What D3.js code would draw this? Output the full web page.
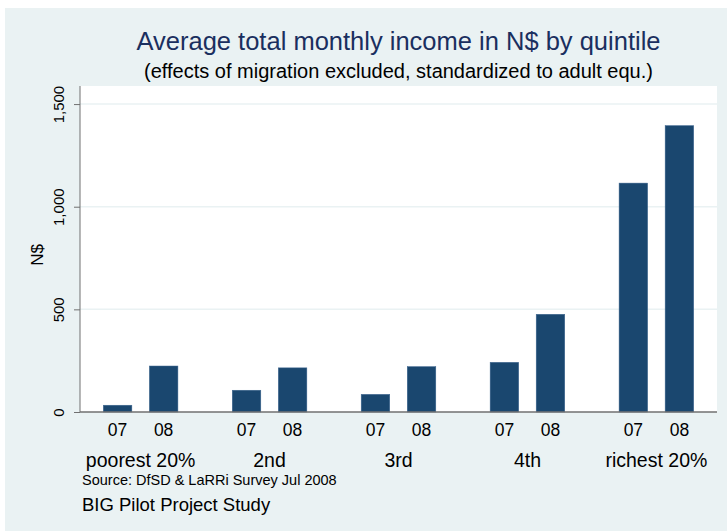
<!DOCTYPE html><meta charset="utf-8">
<html>
<head>
<title>Average total monthly income by quintile</title>
<script src="https://cdn.jsdelivr.net/npm/d3@7/dist/d3.min.js"></script>
<style>
  body { margin: 0; background: #fff; }
  text { font-family: "Liberation Sans", Arial, sans-serif; }
</style>
</head>
<body>
<svg id="viz"></svg>
<script>
// data
var quintiles = ["poorest 20%", "2nd", "3rd", "4th", "richest 20%"];
var years = ["07", "08"];
var income07 = [33, 106, 86, 242, 1115];
var income08 = [224, 215, 221, 476, 1395];
var yTicks = [0, 500, 1000, 1500];

var width = 727, height = 531;
var plot = {left: 80, right: 717, top: 86, bottom: 412};
var navy = "#1a476f";

var svg = d3.select("#viz").attr("width", width).attr("height", height);

// stata-ish background
svg.append("rect").attr("x", 5).attr("y", 8)
    .attr("width", width - 5).attr("height", height - 8)
    .attr("fill", "#eaf2f3");
svg.append("rect").attr("x", plot.left).attr("y", plot.top)
    .attr("width", plot.right - plot.left).attr("height", plot.bottom - plot.top)
    .attr("fill", "#fff");

var x0 = d3.scaleBand().domain(quintiles).range([plot.left, plot.right])
    .paddingInner(0.1).paddingOuter(0.02);
var x1 = d3.scaleBand().domain(years).range([0, x0.bandwidth()])
    .paddingInner(0.38).paddingOuter(0.45);
var y = d3.scaleLinear().domain([0, 1588]).range([plot.bottom, plot.top]);

// grid
svg.append("g").selectAll("line").data(yTicks.slice(1)).enter().append("line")
    .attr("x1", plot.left).attr("x2", plot.right)
    .attr("y1", function(d) { return y(d); }).attr("y2", function(d) { return y(d); })
    .attr("stroke", "#eaf2f3").attr("stroke-width", 1.5);

// bars
var rows = [];
quintiles.forEach(function(q, i) {
    rows.push({q: q, yr: "07", v: income07[i]});
    rows.push({q: q, yr: "08", v: income08[i]});
});
svg.append("g").selectAll("rect").data(rows).enter().append("rect")
    .attr("x", function(d) { return x0(d.q) + x1(d.yr); })
    .attr("width", x1.bandwidth())
    .attr("y", function(d) { return y(d.v); })
    .attr("height", function(d) { return y(0) - y(d.v); })
    .attr("fill", navy)
    .attr("stroke", "#3e6690").attr("stroke-width", 0.5);

// y axis
var yAxis = svg.append("g").attr("transform", "translate(" + plot.left + ",0)")
    .call(d3.axisLeft(y).tickValues(yTicks).tickSize(6).tickFormat(d3.format(",")));
yAxis.select(".domain").attr("stroke", "#707070").attr("d", "M0," + plot.top + "V" + plot.bottom);
yAxis.selectAll(".tick line").attr("stroke", "#707070");
yAxis.selectAll(".tick text")
    .attr("font-size", 15).attr("fill", "#000")
    .attr("text-anchor", "middle")
    .attr("x", 0).attr("y", 0).attr("dy", 0)
    .attr("transform", "translate(-16,0) rotate(-90)");

// baseline
svg.append("line").attr("x1", plot.left).attr("x2", plot.right)
    .attr("y1", y(0)).attr("y2", y(0))
    .attr("stroke", "#707070").attr("stroke-width", 1.5);

// year labels
svg.append("g").selectAll("text").data(rows).enter().append("text")
    .attr("x", function(d) { return x0(d.q) + x1(d.yr) + x1.bandwidth() / 2; })
    .attr("y", 436)
    .attr("text-anchor", "middle").attr("font-size", 17.5)
    .text(function(d) { return d.yr; });

// group labels
svg.append("g").selectAll("text").data(quintiles).enter().append("text")
    .attr("x", function(d) { return x0(d) + x0.bandwidth() / 2; })
    .attr("y", 467)
    .attr("text-anchor", "middle").attr("font-size", 19.5)
    .text(function(d) { return d; });

// axis title
svg.append("text").attr("transform", "translate(43,255) rotate(-90)")
    .attr("text-anchor", "middle").attr("font-size", 17).text("N$");

// titles
var cx = (plot.left + plot.right) / 2;
svg.append("text").attr("x", cx).attr("y", 50).attr("text-anchor", "middle")
    .attr("font-size", 25.5).attr("fill", "#1a2f5f")
    .text("Average total monthly income in N$ by quintile");
svg.append("text").attr("x", cx).attr("y", 78).attr("text-anchor", "middle")
    .attr("font-size", 20).attr("fill", "#000")
    .text("(effects of migration excluded, standardized to adult equ.)");

// notes
svg.append("text").attr("x", 82).attr("y", 485).attr("font-size", 14.5)
    .text("Source: DfSD & LaRRi Survey Jul 2008");
svg.append("text").attr("x", 82).attr("y", 511).attr("font-size", 18.5)
    .text("BIG Pilot Project Study");
</script>
</body>
</html>
